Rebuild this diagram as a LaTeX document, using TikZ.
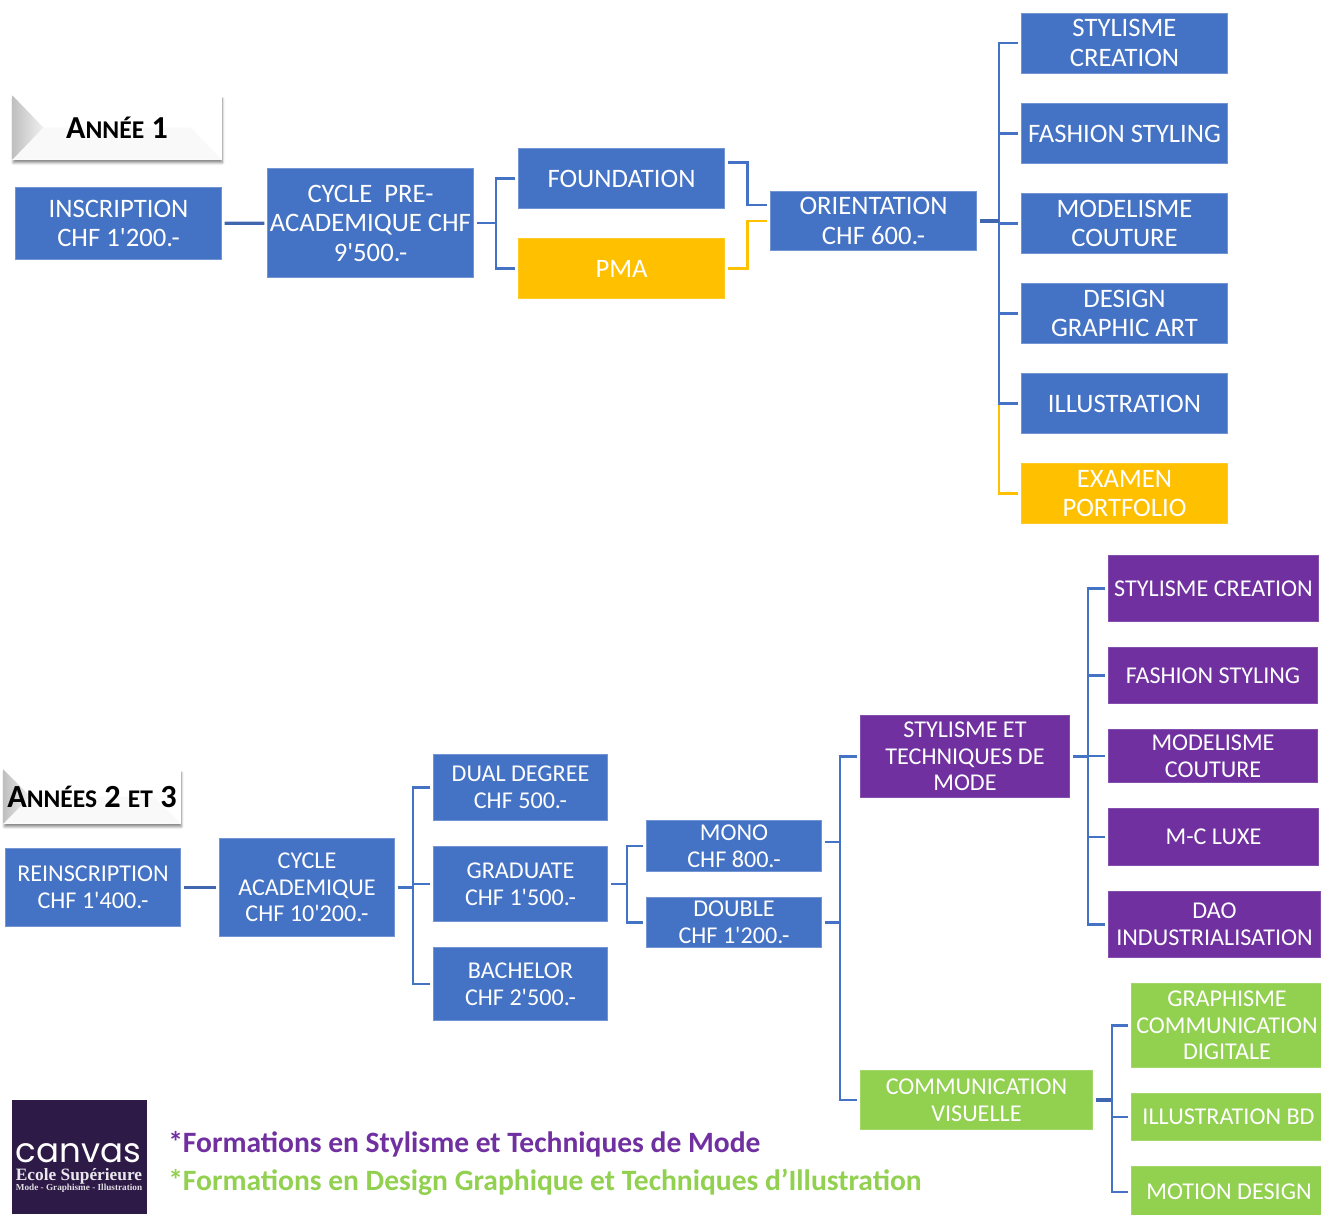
\documentclass[tikz,border=0pt]{standalone}
\usepackage{fontspec}
\newfontfamily\calfont{Carlito}
\newfontfamily\logofont{Poppins}
\newfontfamily\logoserif{Liberation Serif}
\usepackage{xcolor}
\usetikzlibrary{positioning,calc,shadows,shadows.blur}
\definecolor{boxblue}{HTML}{4472C4}
\definecolor{boxpurple}{HTML}{7030A0}
\definecolor{boxgreen}{HTML}{92D050}
\definecolor{boxyellow}{HTML}{FFC000}
\definecolor{stubblue}{HTML}{3F66AE}
\definecolor{logodark}{HTML}{2E1A47}
\tikzset{
    boxsize/.style 2 args = {minimum width = #1*.75pt - .5pt, minimum height = #2*.75pt - .5pt},
    box/.style = {rectangle, inner sep = 0pt, outer sep = 2.25pt, align = center, text = white},
    bigtext/.style = {box, font = \calfont\fontsize{20pt}{22.1pt}\selectfont},
    smalltext/.style = {box, font = \calfont\fontsize{18.1pt}{19.9pt}\selectfont},
    blue/.style = {fill = boxblue, draw = boxblue!75!white, line width = .5pt},
    purple/.style = {fill = boxpurple, draw = boxpurple!85!white, line width = .5pt},
    green/.style = {fill = boxgreen, draw = boxgreen!85!white, line width = .5pt},
    yellow/.style = {fill = boxyellow, draw = boxyellow!85!white, line width = .5pt},
    link/.style = {draw = boxblue, line width = 2pt},
    stub/.style = {draw = stubblue, line width = 2.4pt},
    yellowlink/.style = {draw = boxyellow, line width = 2pt},
    bevel/.style = {rectangle, fill = white, inner sep = 0pt, text = black,
        blur shadow = {shadow xshift = .6pt, shadow yshift = -2.4pt, shadow blur steps = 6, shadow opacity = 45},
        path picture = {
            \fill[gray!5] (path picture bounding box.south west) -- ($(path picture bounding box.west)+(#1,0)$)
                -- ($(path picture bounding box.east)+(-#1,0)$) -- (path picture bounding box.south east) -- cycle;
            \fill[left color = gray!50, right color = gray!12] (path picture bounding box.north west)
                -- ($(path picture bounding box.west)+(#1,0)$) -- (path picture bounding box.south west) -- cycle;
        }},
    legend/.style = {anchor = base west, inner sep = 0pt, font = \calfont\bfseries\fontsize{22.15pt}{24pt}\selectfont},
}
\newcommand{\petit}[1]{{\fontsize{19.2pt}{22pt}\selectfont #1}}
\newcommand{\petitb}[1]{{\fontsize{19.1pt}{22pt}\selectfont #1}}

\begin{document}
\begin{tikzpicture}[x = .75pt, y = -.75pt]
    \useasboundingbox (0,0) rectangle (1321,1214);

    % annee 1
    \node[bevel = 31, boxsize = {210}{65}, font = \calfont\bfseries\fontsize{24pt}{26pt}\selectfont] (annee) at (117,127.5) {A\petit{NNÉE} 1};
    \node[bigtext, blue, boxsize = {207}{73}] (inscription) at (118.5,223.5) {INSCRIPTION\\CHF 1'200.-};
    \node[bigtext, blue, boxsize = {207}{110}] (cyclepre) at (370.5,223) {CYCLE~ PRE-\\ACADEMIQUE CHF\\9'500.-};
    \node[bigtext, blue, boxsize = {207}{61}] (foundation) at (621.5,178.5) {FOUNDATION};
    \node[bigtext, yellow, boxsize = {207}{61}] (pma) at (621.5,268.5) {PMA};
    \node[bigtext, blue, boxsize = {207}{60}] (orientation) at (873.5,221) {ORIENTATION\\CHF 600.-};
    \node[bigtext, blue, boxsize = {207}{61}] (stylisme) at (1124.5,43) {STYLISME\\CREATION};
    \node[bigtext, blue, boxsize = {207}{61}] (fashion) at (1124.5,133.5) {FASHION STYLING};
    \node[bigtext, blue, boxsize = {207}{61}] (modelisme) at (1124.5,223.5) {MODELISME\\COUTURE};
    \node[bigtext, blue, boxsize = {207}{61}] (design) at (1124.5,313.5) {DESIGN\\GRAPHIC ART};
    \node[bigtext, blue, boxsize = {207}{61}] (illustration) at (1124.5,403.5) {ILLUSTRATION};
    \node[bigtext, yellow, boxsize = {207}{61}] (examen) at (1124.5,493.5) {EXAMEN\\PORTFOLIO};

    \coordinate (joinpre) at (496,223);
    \coordinate (joinori) at (999,221);
    \draw[stub] (inscription) -- (cyclepre);
    \draw[link] (cyclepre.east) -- (joinpre);
    \draw[link] (foundation.west) -| (joinpre) |- (pma.west);
    \draw[link] ([yshift = 12pt]foundation.east) -- ++(20,0) |- ([yshift = 12pt]orientation.west);
    \draw[yellowlink] (pma.east) -- ++(20,0) |- (orientation.west);
    \draw[yellowlink] (joinori |- illustration) |- (examen.west);
    \draw[link] (stylisme.west) -| (joinori) |- (illustration.west);
    \draw[stub] (orientation.east) -- (joinori);
    \foreach \n in {fashion, modelisme, design} {
        \draw[link] (joinori |- \n) -- (\n.west);
    }

    % annees 2 et 3
    \node[bevel = 27, boxsize = {178}{55}, font = \calfont\bfseries\fontsize{24.2pt}{26pt}\selectfont] (annees) at (92,796.5) {A\petitb{NNÉES} 2 \petitb{ET} 3};
    \node[smalltext, blue, boxsize = {176}{79}] (reinscription) at (93,887.5) {REINSCRIPTION\\CHF 1'400.-};
    \node[smalltext, blue, boxsize = {176}{99}] (cycleac) at (307,887.5) {CYCLE\\ACADEMIQUE\\CHF 10'200.-};
    \node[smalltext, blue, boxsize = {175}{67}] (dual) at (520.5,787.5) {DUAL DEGREE\\CHF 500.-};
    \node[smalltext, blue, boxsize = {175}{76}] (graduate) at (520.5,884) {GRADUATE\\CHF 1'500.-};
    \node[smalltext, blue, boxsize = {175}{74}] (bachelor) at (520.5,984) {BACHELOR\\CHF 2'500.-};
    \node[smalltext, blue, boxsize = {176}{52}] (mono) at (734,846) {MONO\\CHF 800.-};
    \node[smalltext, blue, boxsize = {176}{51}] (double) at (734,922.5) {DOUBLE\\CHF 1'200.-};
    \node[smalltext, purple, boxsize = {210}{83}] (techniques) at (965,756.5) {STYLISME ET\\TECHNIQUES DE\\MODE};
    \node[smalltext, green, boxsize = {233}{60}] (communication) at (976.5,1100) {COMMUNICATION\\VISUELLE};
    \node[smalltext, purple, boxsize = {211}{67}] (stycrea) at (1213.5,588.5) {STYLISME CREATION};
    \node[smalltext, purple, boxsize = {210}{57}] (fasty) at (1213,675.5) {FASHION STYLING};
    \node[smalltext, purple, boxsize = {210}{54}] (modcout) at (1213,756) {MODELISME\\COUTURE};
    \node[smalltext, purple, boxsize = {211}{58}] (luxe) at (1213.5,837) {M-C LUXE};
    \node[smalltext, purple, boxsize = {213}{67}] (dao) at (1214.5,924.5) {DAO\\INDUSTRIALISATION};
    \node[smalltext, green, boxsize = {192}{85}] (graphisme) at (1227,1025.5) {GRAPHISME\\COMMUNICATION\\DIGITALE};
    \node[smalltext, green, boxsize = {195}{48}] (illubd) at (1228.5,1117) {ILLUSTRATION BD};
    \node[smalltext, green, boxsize = {196}{52}] (motion) at (1229,1192) {MOTION DESIGN};

    \coordinate (joinac) at (413,887.5);
    \coordinate (joingrad) at (627,884);
    \coordinate (joinmode) at (840,922.5);
    \coordinate (joinsty) at (1088,756.5);
    \coordinate (joincom) at (1112,1100);
    \draw[stub] (reinscription) -- (cycleac);
    \draw[link] (cycleac.east) -- (joinac);
    \draw[link] (dual.west) -| (joinac) |- (bachelor.west);
    \draw[link] (joinac |- graduate) -- (graduate.west);
    \draw[link] (graduate.east) -- (joingrad);
    \draw[link] (mono.west) -| (joingrad) |- (double.west);
    \draw[link] ([yshift = 3pt]mono.east) -- ++(15,0);
    \draw[link] (double.east) -- (joinmode);
    \draw[link] (techniques.west) -| (joinmode) |- (communication.west);
    \draw[link] (techniques.east) -- (joinsty);
    \draw[link] (stycrea.west) -| (joinsty) |- (dao.west);
    \foreach \n in {fasty, modcout, luxe} {
        \draw[link] (joinsty |- \n) -- (\n.west);
    }
    \draw[stub] (communication.east) -- (joincom);
    \draw[link] (graphisme.west) -| (joincom) |- (motion.west);
    \draw[link] (joincom |- illubd) -- (illubd.west);

    % logo et legende
    \node[rectangle, fill = logodark, inner sep = 0pt, minimum width = 101.25pt, minimum height = 85.5pt] (logo) at (79.5,1157) {};
    \node[anchor = base, inner sep = 0pt, text = white, font = \logofont\fontsize{25.5pt}{28pt}\selectfont] (canvas) at (78.5,1162) {canvas};
    \node[anchor = base, inner sep = 0pt, text = white!90!logodark, font = \logoserif\bfseries\fontsize{13pt}{14pt}\selectfont] (ecole) at (79,1180) {Ecole Supérieure};
    \node[anchor = base, inner sep = 0pt, text = white!85!logodark, font = \logoserif\bfseries\fontsize{6.9pt}{8pt}\selectfont] (mode) at (79,1190) {Mode - Graphisme - Illustration};
    \node[legend, text = boxpurple] (legendmode) at (168,1152) {*Formations en Stylisme et Techniques de Mode};
    \node[legend, text = boxgreen] (legenddesign) at (168,1190) {*Formations en Design Graphique et Techniques d’Illustration};
\end{tikzpicture}
\end{document}
